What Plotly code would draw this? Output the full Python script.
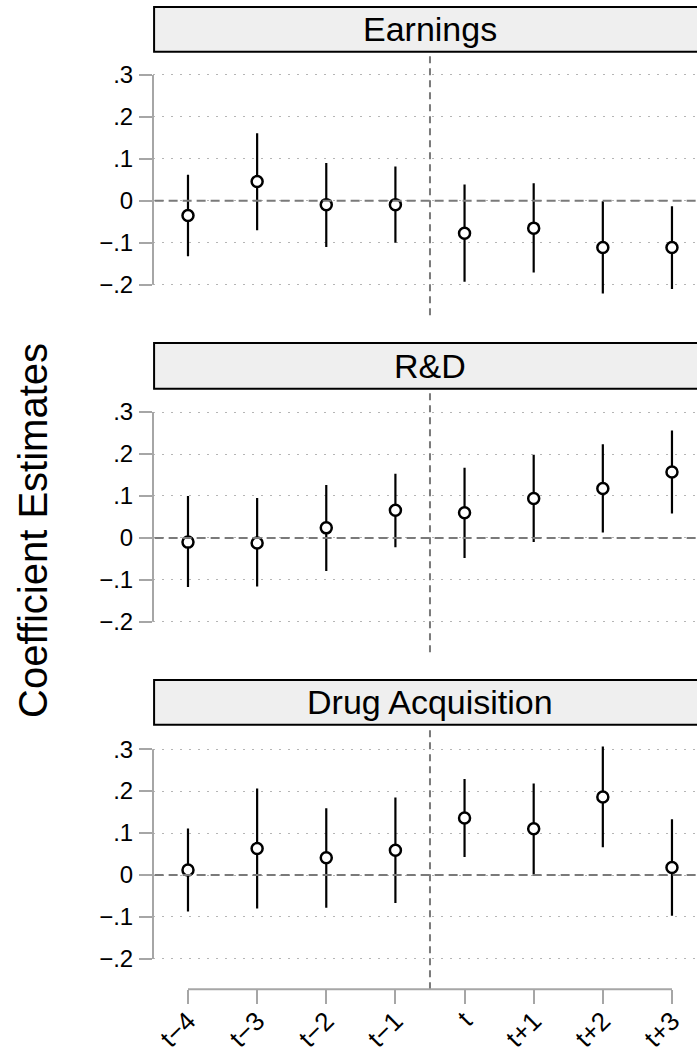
import plotly.graph_objects as go

periods = ["t\u22124", "t\u22123", "t\u22122", "t\u22121", "t", "t+1", "t+2", "t+3"]
panel_titles = ["Earnings", "R&D", "Drug Acquisition"]

earn_coef = [-0.035, 0.046, -0.009, -0.009, -0.077, -0.065, -0.111, -0.111]
earn_lo   = [-0.132, -0.070, -0.110, -0.100, -0.193, -0.171, -0.221, -0.210]
earn_hi   = [0.062, 0.161, 0.090, 0.082, 0.039, 0.042, -0.001, -0.013]

rd_coef = [-0.010, -0.012, 0.024, 0.066, 0.060, 0.094, 0.118, 0.157]
rd_lo   = [-0.117, -0.116, -0.079, -0.022, -0.048, -0.010, 0.013, 0.058]
rd_hi   = [0.100, 0.095, 0.126, 0.153, 0.167, 0.198, 0.223, 0.256]

drug_coef = [0.012, 0.063, 0.041, 0.059, 0.136, 0.110, 0.186, 0.018]
drug_lo   = [-0.087, -0.080, -0.078, -0.067, 0.043, 0.002, 0.066, -0.097]
drug_hi   = [0.111, 0.206, 0.159, 0.185, 0.229, 0.218, 0.306, 0.133]

ytick_vals = [0.3, 0.2, 0.1, 0.0, -0.1, -0.2]
ytick_text = [".3", ".2", ".1", "0", "\u2212.1", "\u2212.2"]

y_title = "Coefficient Estimates"
event_line_x = 3.5

series = [(earn_coef, earn_lo, earn_hi), (rd_coef, rd_lo, rd_hi), (drug_coef, drug_lo, drug_hi)]

W, H = 697, 1053
LEFT = 153
FONT = "Liberation Sans, Arial, Helvetica, sans-serif"
GRAY = "#a6a6a6"
LINEGRAY = "#7a7a7a"

# pixel layout (top, bottom) of each plot region and header
plot_px = [(52, 317), (391, 656), (730, 995)]
head_px = [(7, 52), (345, 391), (684, 729)]

def py(p):
    return 1 - p / H

fig = go.Figure()
xr = [-0.506, 7.362]
yr = [-0.2725, 0.3555]
xidx = list(range(len(periods)))

shapes = []
annotations = []
for i, (coef, lo, hi) in enumerate(series):
    n = i + 1
    xa = "x" if n == 1 else f"x{n}"
    ya = "y" if n == 1 else f"y{n}"
    fig.add_trace(go.Scatter(
        x=xidx, y=coef, xaxis=xa, yaxis=ya, mode="markers",
        marker=dict(symbol="circle", size=11, color="white",
                    line=dict(color="black", width=2.5)),
        error_y=dict(type="data", symmetric=False,
                     array=[h - c for h, c in zip(hi, coef)],
                     arrayminus=[c - l for c, l in zip(coef, lo)],
                     width=0, thickness=2.2, color="black"),
        showlegend=False, hoverinfo="skip"))
    top, bot = plot_px[i]
    last = (n == 3)
    fig.update_layout(**{
        ("xaxis" if n == 1 else f"xaxis{n}"): dict(
            domain=[0, 1], range=xr, anchor=ya, showgrid=False, zeroline=False,
            showline=False,
            tickvals=xidx if last else [], ticktext=periods if last else [],
            showticklabels=last, ticks="outside" if last else "",
            ticklen=14, tickwidth=2, tickcolor=GRAY, tickangle=-45,
            ticklabelstandoff=-9,
            tickfont=dict(family=FONT, size=26, color="black")),
        ("yaxis" if n == 1 else f"yaxis{n}"): dict(
            domain=[py(bot), py(top)], range=yr, anchor=xa,
            tickvals=ytick_vals, ticktext=ytick_text, ticks="outside",
            ticklen=13, tickwidth=2, tickcolor=GRAY, showline=False,
            zeroline=False, showgrid=True, gridcolor="#b5b5b5", gridwidth=1.4,
            griddash="2px,7px", ticklabelstandoff=1,
            tickfont=dict(family=FONT, size=24, color="black")),
    })
    # y axis line spanning tick range
    shapes.append(dict(type="line", xref="paper", yref=ya, x0=0, x1=0,
                       y0=min(ytick_vals), y1=max(ytick_vals),
                       line=dict(color=GRAY, width=2)))
    # zero reference line
    shapes.append(dict(type="line", xref="paper", yref=ya, x0=0.003, x1=1,
                       y0=0, y1=0, line=dict(color=LINEGRAY, width=2, dash="9px,5px")))
    # event line
    shapes.append(dict(type="line", xref=xa, yref=f"{ya} domain", x0=event_line_x,
                       x1=event_line_x, y0=0, y1=1,
                       line=dict(color=LINEGRAY, width=2, dash="7px,5px")))
    # header box
    ht, hb = head_px[i]
    shapes.append(dict(type="rect", xref="paper", yref="paper", x0=0.002, x1=1.2,
                       y0=py(hb), y1=py(ht), fillcolor="#efefef",
                       line=dict(color="black", width=2), layer="below"))
    annotations.append(dict(text=panel_titles[i], xref="paper", yref="paper",
                            x=(430 - LEFT) / (W - LEFT), y=py((ht + hb) / 2),
                            xanchor="center", yanchor="middle", showarrow=False,
                            font=dict(family=FONT, size=34, color="black")))

# bottom x axis line from first to last tick
shapes.append(dict(type="line", xref="x3", yref="paper", x0=0, x1=len(periods) - 1,
                   y0=py(995), y1=py(995), line=dict(color=GRAY, width=2)))

annotations.append(dict(text=y_title, xref="paper", yref="paper",
                        x=(33 - LEFT) / (W - LEFT), y=py(534), textangle=-90,
                        xanchor="center", yanchor="middle", showarrow=False,
                        font=dict(family=FONT, size=40, color="black")))

fig.update_layout(width=W, height=H, margin=dict(l=LEFT, r=0, t=0, b=0),
                  paper_bgcolor="white", plot_bgcolor="white",
                  shapes=shapes, annotations=annotations)

fig.write_html("out.html", config={"displayModeBar": False},
               post_script="document.body.style.margin='0';document.body.style.padding='0';")
